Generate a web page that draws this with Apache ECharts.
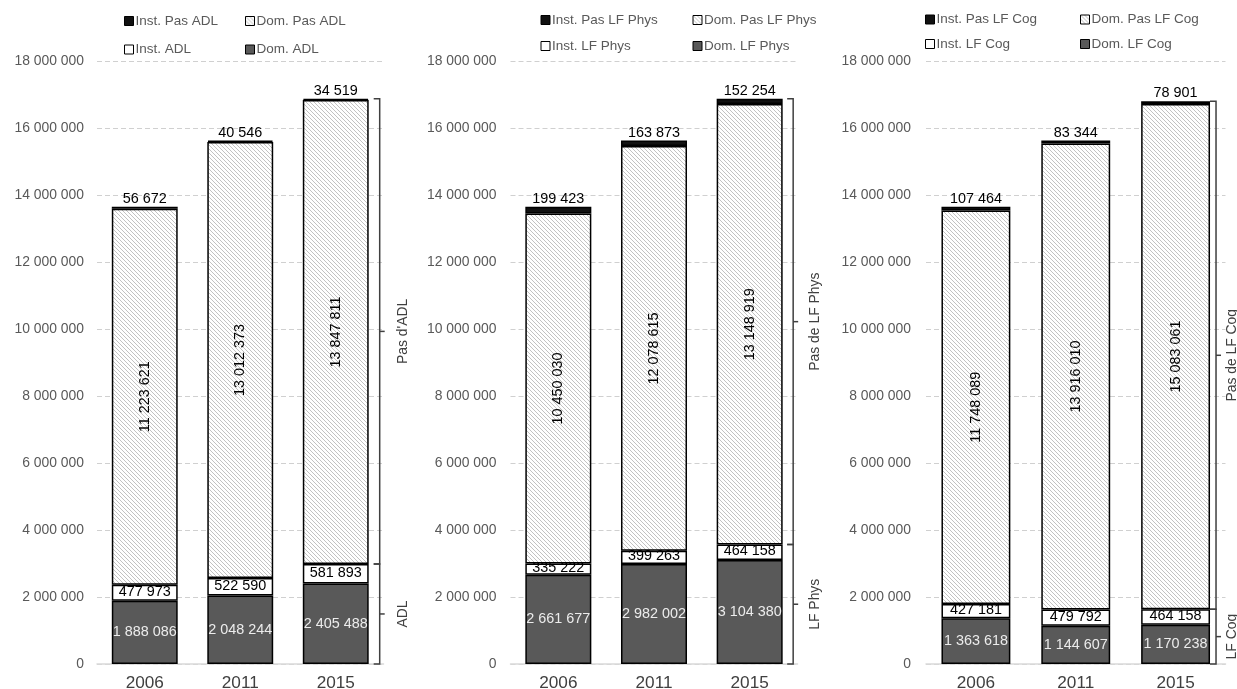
<!DOCTYPE html>
<html><head><meta charset="utf-8">
<script src="https://cdn.jsdelivr.net/npm/echarts@6/dist/echarts.min.js"></script>
<style>html,body{margin:0;padding:0;background:#fff}#c{width:1237px;height:689px}</style>
</head><body><div id="c"></div>
<script>
// ---------------- DATA ----------------
const years = ['2006', '2011', '2015'];
const yMin = 0, yMax = 18000000, yStep = 2000000;

// Panel 1 : ADL
const adlDom     = [1888086, 2048244, 2405488];
const adlInst    = [477973, 522590, 581893];
const adlDomPas  = [11223621, 13012373, 13847811];
const adlInstPas = [56672, 40546, 34519];
const adlNames   = ['Inst. Pas ADL', 'Dom. Pas ADL', 'Inst. ADL', 'Dom. ADL'];
const adlBrackets = ["Pas d'ADL", 'ADL'];

// Panel 2 : LF Phys
const physDom     = [2661677, 2982002, 3104380];
const physInst    = [335222, 399263, 464158];
const physDomPas  = [10450030, 12078615, 13148919];
const physInstPas = [199423, 163873, 152254];
const physNames   = ['Inst. Pas LF Phys', 'Dom. Pas LF Phys', 'Inst. LF Phys', 'Dom. LF Phys'];
const physBrackets = ['Pas de LF Phys', 'LF Phys'];

// Panel 3 : LF Cog
const cogDom     = [1363618, 1144607, 1170238];
const cogInst    = [427181, 479792, 464158];
const cogDomPas  = [11748089, 13916010, 15083061];
const cogInstPas = [107464, 83344, 78901];
const cogNames   = ['Inst. Pas LF Cog', 'Dom. Pas LF Cog', 'Inst. LF Cog', 'Dom. LF Cog'];
const cogBrackets = ['Pas de LF Cog', 'LF Cog'];

// ---------------- FONT ----------------
function hasFont(f) {
  const c = document.createElement('canvas').getContext('2d');
  const s = 'Inst. Pas 18 000 000';
  c.font = '40px monospace'; const a = c.measureText(s).width;
  c.font = "40px '" + f + "', monospace"; const b = c.measureText(s).width;
  return Math.abs(a - b) > 1;
}
const narrow = hasFont('Liberation Sans Narrow');
const FONT = narrow ? "'Liberation Sans Narrow', 'Liberation Sans', Arial, sans-serif" : "'Liberation Sans', Arial, sans-serif";
const k = narrow ? 1 : 0.82;
const fs = v => Math.round(v * k * 10) / 10;

// ---------------- HELPERS ----------------
const fmt = v => String(Math.round(v)).replace(/\B(?=(\d{3})+(?!\d))/g, ' ');

function hatch() {
  const n = 4;
  const c = document.createElement('canvas'); c.width = n; c.height = n;
  const g = c.getContext('2d');
  g.fillStyle = '#ffffff'; g.fillRect(0, 0, n, n);
  g.fillStyle = '#c2c2c2';
  for (let i = 0; i < n; i++) g.fillRect(i, i, 1, 1);
  return c;
}
const hatchFill = { image: hatch(), repeat: 'repeat' };

const panels = [
  { dom: adlDom, inst: adlInst, domPas: adlDomPas, instPas: adlInstPas, names: adlNames, br: adlBrackets,
    grid: { left: 97, right: 1237 - 383.5 }, yMargin: 13, brGap: 11, brLabel: 23,
    legX: [124, 245], legY: [23, 51.5] },
  { dom: physDom, inst: physInst, domPas: physDomPas, instPas: physInstPas, names: physNames, br: physBrackets,
    grid: { left: 510.5, right: 1237 - 797.5 }, yMargin: 14, brGap: 10.5, brLabel: 22,
    legX: [540.5, 692.5], legY: [22, 48] },
  { dom: cogDom, inst: cogInst, domPas: cogDomPas, instPas: cogInstPas, names: cogNames, br: cogBrackets,
    grid: { left: 926, right: 1237 - 1225.5 }, yMargin: 15, brGap: 6, brLabel: 16,
    legX: [925, 1080], legY: [21.5, 46] }
];
const BAR_FRAC = 0.69;

const option = {
  animation: false,
  backgroundColor: '#ffffff',
  textStyle: { fontFamily: FONT },
  grid: [], xAxis: [], yAxis: [], series: [], legend: []
};

panels.forEach((p, i) => {
  option.grid.push({ left: p.grid.left, right: p.grid.right, top: 61, bottom: 25, containLabel: false, outerBoundsMode: 'none' });
  option.xAxis.push({
    type: 'category', gridIndex: i, data: years,
    axisLine: { show: true, lineStyle: { color: '#d9d9d9', width: 1.5 } },
    axisTick: { show: false },
    axisLabel: { color: '#404040', fontSize: fs(21), margin: 11, fontFamily: FONT }
  });
  option.yAxis.push({
    type: 'value', gridIndex: i, min: yMin, max: yMax, interval: yStep,
    axisLine: { show: false }, axisTick: { show: false },
    splitLine: { show: true, lineStyle: { color: '#d0d0d0', type: [5, 3], width: 1 } },
    axisLabel: { color: '#595959', fontSize: fs(17), margin: p.yMargin, formatter: fmt, fontFamily: FONT }
  });

  const stack = 'p' + i;
  const border = { borderColor: '#000000', borderWidth: 1.5 };
  const common = { type: 'bar', stack, xAxisIndex: i, yAxisIndex: i, barWidth: (BAR_FRAC * 100) + '%' };
  // bottom -> top: Dom., Inst., Dom. Pas, Inst. Pas
  option.series.push(Object.assign({}, common, {
    name: p.names[3], data: p.dom,
    itemStyle: Object.assign({ color: '#595959' }, border),
    label: { show: true, position: 'inside', color: '#ececec', fontSize: fs(17.5), formatter: q => fmt(q.value), fontFamily: FONT }
  }));
  option.series.push(Object.assign({}, common, {
    name: p.names[2], data: p.inst,
    itemStyle: Object.assign({ color: '#ffffff' }, border),
    label: { show: true, position: 'inside', color: '#000000', fontSize: fs(17.5), formatter: q => fmt(q.value), fontFamily: FONT, offset: [0, -1] }
  }));
  option.series.push(Object.assign({}, common, {
    name: p.names[1], data: p.domPas,
    itemStyle: Object.assign({ color: hatchFill }, border),
    label: { show: true, position: 'inside', rotate: 90, color: '#000000', fontSize: fs(17.5), formatter: q => fmt(q.value), fontFamily: FONT }
  }));
  option.series.push(Object.assign({}, common, {
    name: p.names[0], data: p.instPas,
    itemStyle: Object.assign({ color: '#111111' }, border),
    label: { show: true, position: 'top', distance: 1, color: '#000000', fontSize: fs(17.5), formatter: q => fmt(q.value), fontFamily: FONT }
  }));

  // brackets on last category
  const last = years.length - 1;
  const lowTop = p.dom[last] + p.inst[last];
  const total = lowTop + p.domPas[last] + p.instPas[last];
  const brData = [
    { name: p.br[0], value: [last, lowTop, total] },
    { name: p.br[1], value: [last, 0, lowTop] }
  ];
  option.series.push({
    type: 'custom', xAxisIndex: i, yAxisIndex: i, clip: false, silent: true,
    encode: { x: 0, y: [1, 2] },
    data: brData,
    renderItem: (params, api) => {
      const cat = api.value(0), lo = api.value(1), hi = api.value(2);
      const pLo = api.coord([cat, lo]), pHi = api.coord([cat, hi]);
      const band = api.size([1, 0])[0];
      const x = pLo[0] + band * BAR_FRAC / 2 + p.brGap;
      const yTop = pHi[1], yBot = pLo[1], yMid = (yTop + yBot) / 2;
      const st = { stroke: '#404040', lineWidth: 1.5, fill: null };
      return {
        type: 'group', children: [
          { type: 'polyline', shape: { points: [[x - 6, yTop], [x, yTop], [x, yBot], [x - 6, yBot]] }, style: st },
          { type: 'line', shape: { x1: x, y1: yMid, x2: x + 5, y2: yMid }, style: st },
          { type: 'text', x: x + p.brLabel, y: yMid, rotation: Math.PI / 2,
            style: { text: brData[params.dataIndex].name, fill: '#404040', fontSize: fs(17), fontFamily: FONT, align: 'center', verticalAlign: 'middle' } }
        ]
      };
    }
  });

  // legends: row 1 = Inst. Pas / Dom. Pas ; row 2 = Inst. / Dom.
  const legPos = [[0, 0], [1, 0], [0, 1], [1, 1]];
  p.names.forEach((nm, j) => {
    const [cx, ry] = legPos[j];
    option.legend.push({
      data: [nm], left: p.legX[cx], top: p.legY[ry] - 9, padding: 0,
      itemWidth: 9, itemHeight: 9, icon: 'rect', selectedMode: false,
      itemStyle: { borderColor: '#000000', borderWidth: 1 },
      textStyle: { color: '#595959', fontSize: fs(16.5), fontFamily: FONT, padding: [0, 0, 0, -3] }
    });
  });
});

const chart = echarts.init(document.getElementById('c'), null, { renderer: 'canvas' });
chart.setOption(option);
</script>
</body></html>
